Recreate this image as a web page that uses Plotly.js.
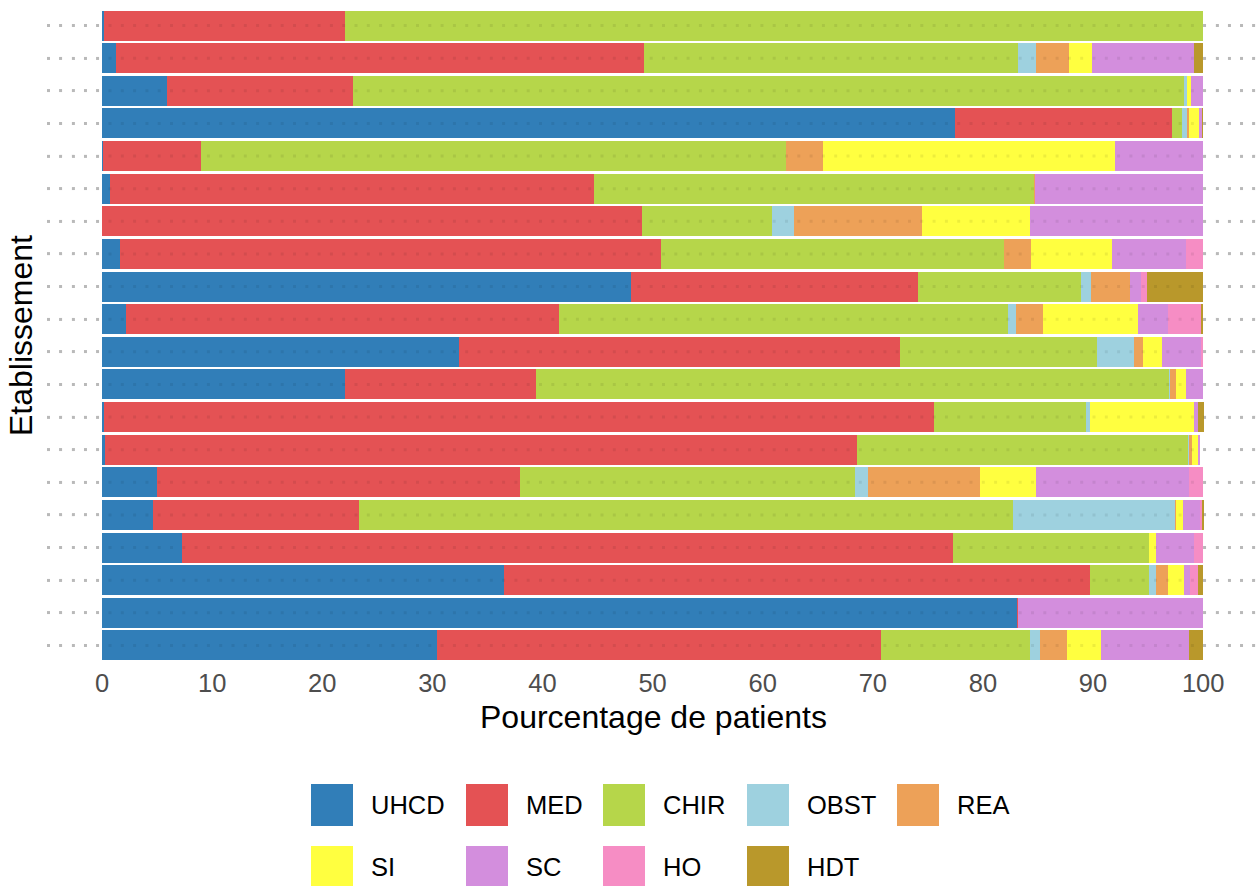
<!DOCTYPE html>
<html>
<head>
<meta charset="utf-8">
<script src="https://cdn.plot.ly/plotly-3.0.1.min.js"></script>
<style>html,body{margin:0;padding:0;background:#fff;}#chart{width:1256px;height:886px;}</style>
</head>
<body>
<div id="chart"></div>
<script>
// Establishments, listed from top to bottom
const etablissements = ["E01","E02","E03","E04","E05","E06","E07","E08","E09","E10",
                        "E11","E12","E13","E14","E15","E16","E17","E18","E19","E20"];
const services = ["UHCD","MED","CHIR","OBST","REA","SI","SC","HO","HDT"];
const couleurs = ["#317EB8","#E45254","#B6D64A","#9ED1DF","#EDA158","#FFFF40","#D38EDD","#F68DC4","#B9982B"];

const UHCD = [0.2, 1.3, 5.9, 77.5, 0.1, 0.7, 0.0, 1.6, 48.0, 2.2, 32.4, 22.1, 0.2, 0.3, 5.0, 4.6, 7.3, 36.5, 83.1, 30.4];
const MED  = [21.9, 47.9, 16.9, 19.7, 8.9, 44.0, 49.0, 49.2, 26.1, 39.3, 40.1, 17.3, 75.4, 68.3, 33.0, 18.7, 70.0, 53.2, 0.1, 40.3];
const CHIR = [77.9, 34.0, 75.5, 0.9, 53.1, 39.9, 11.8, 31.1, 14.8, 40.8, 17.9, 57.5, 13.8, 30.0, 30.4, 59.4, 17.8, 5.4, 0.0, 13.6];
const OBST = [0.0, 1.6, 0.2, 0.4, 0.0, 0.0, 2.0, 0.0, 0.9, 0.7, 3.3, 0.1, 0.3, 0.1, 1.2, 14.7, 0.0, 0.6, 0.0, 0.9];
const REA  = [0.0, 3.0, 0.0, 0.2, 3.4, 0.1, 11.7, 2.5, 3.6, 2.5, 0.8, 0.5, 0.0, 0.3, 10.1, 0.1, 0.0, 1.1, 0.0, 2.4];
const SI   = [0.0, 2.1, 0.4, 0.9, 26.5, 0.0, 9.8, 7.3, 0.0, 8.6, 1.8, 0.9, 9.5, 0.5, 5.1, 0.7, 0.6, 1.5, 0.0, 3.1];
const SC   = [0.0, 9.3, 1.1, 0.3, 8.0, 15.3, 15.7, 6.7, 1.0, 2.7, 3.5, 1.6, 0.3, 0.2, 13.9, 1.5, 3.5, 0.5, 16.8, 8.0];
const HO   = [0.0, 0.0, 0.0, 0.0, 0.0, 0.0, 0.0, 1.6, 0.5, 3.0, 0.2, 0.0, 0.0, 0.0, 1.3, 0.2, 0.8, 0.7, 0.0, 0.0];
const HDT  = [0.0, 0.8, 0.0, 0.1, 0.0, 0.0, 0.0, 0.0, 5.1, 0.2, 0.0, 0.0, 0.6, 0.0, 0.0, 0.2, 0.0, 0.5, 0.0, 1.3];
const xTicks = [0,10,20,30,40,50,60,70,80,90,100];

const valeurs = [UHCD, MED, CHIR, OBST, REA, SI, SC, HO, HDT];

const W = 1256, H = 886;
const M = {l: 47, r: 0, t: 6, b: 221};
const pw = W - M.l - M.r, ph = H - M.t - M.b;
const px2x = p => (p - M.l) / pw;
const px2y = p => (H - M.b - p) / ph;

const traces = services.map((s, i) => ({
  type: 'bar',
  orientation: 'h',
  name: s,
  x: valeurs[i],
  y: etablissements,
  marker: {color: couleurs[i], line: {width: 0}},
  showlegend: false,
  hoverinfo: 'x+y+name'
}));

const shapes = [];
const annotations = [];
// dotted grid overlay above bars (as in reference)
etablissements.forEach(e => {
  shapes.push({type: 'line', layer: 'above', xref: 'paper', yref: 'y', x0: 0, x1: 1, y0: e, y1: e,
               line: {color: 'rgba(0,0,0,0.07)', width: 3, dash: '3px,9.3px'}});
});
// custom legend
const colX = [311, 466, 603, 747, 897];
const rowY = [784, 846];
const key = 42;
services.forEach((s, i) => {
  const r = Math.floor(i / 5), c = i % 5;
  const x0 = colX[c], y0 = rowY[r];
  shapes.push({type: 'rect', xref: 'paper', yref: 'paper',
               x0: px2x(x0), x1: px2x(x0 + key), y0: px2y(y0 + key), y1: px2y(y0),
               fillcolor: couleurs[i], line: {width: 0}});
  annotations.push({xref: 'paper', yref: 'paper', x: px2x(x0 + key + 16), y: px2y(y0 + key / 2),
                    xanchor: 'left', yanchor: 'middle', showarrow: false, text: s,
                    font: {family: 'Liberation Sans, Arial, sans-serif', size: 25.5, color: '#000'}});
});
// axis titles
annotations.push({xref: 'paper', yref: 'paper', x: px2x(653), y: px2y(717), xanchor: 'center', yanchor: 'middle',
                  showarrow: false, text: 'Pourcentage de patients',
                  font: {family: 'Liberation Sans, Arial, sans-serif', size: 32, color: '#000'}});
annotations.push({xref: 'paper', yref: 'paper', x: px2x(21), y: px2y(336), xanchor: 'center', yanchor: 'middle',
                  showarrow: false, text: 'Etablissement', textangle: -90,
                  font: {family: 'Liberation Sans, Arial, sans-serif', size: 32, color: '#000'}});

const layout = {
  width: W, height: H,
  margin: M,
  paper_bgcolor: '#fff', plot_bgcolor: '#fff',
  barmode: 'stack',
  bargap: 0.08,
  showlegend: false,
  font: {family: 'Liberation Sans, Arial, sans-serif'},
  xaxis: {
    range: [-5, 104.8],
    tickvals: xTicks,
    ticktext: xTicks.map(String),
    showgrid: false, zeroline: false, showline: false, ticks: '',
    tickfont: {size: 25.5, color: '#4d4d4d'},
    fixedrange: true
  },
  yaxis: {
    type: 'category',
    categoryorder: 'array',
    categoryarray: etablissements,
    range: [19.6, -0.6],
    showticklabels: false,
    ticks: '',
    showgrid: true,
    gridcolor: '#c8c8c8',
    gridwidth: 3,
    griddash: '3px,9.3px',
    zeroline: false, showline: false,
    fixedrange: true
  },
  shapes: shapes,
  annotations: annotations
};

Plotly.newPlot('chart', traces, layout, {displayModeBar: false, staticPlot: true});
</script>
</body>
</html>
